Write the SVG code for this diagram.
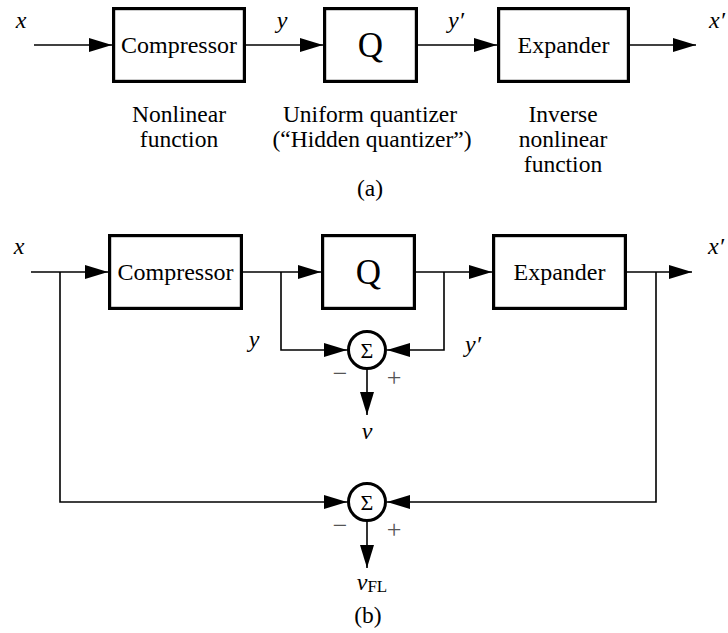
<svg xmlns="http://www.w3.org/2000/svg" width="728" height="633" viewBox="0 0 728 633">
<style>
.box{fill:#fff;stroke:#000;stroke-width:3.2}
.ln{fill:none;stroke:#000;stroke-width:1.6}
.arr{marker-end:url(#ah)}
text{font-family:'Liberation Serif','DejaVu Serif',serif;font-size:24px;fill:#000;text-anchor:middle}
.i{font-style:italic}
.c{font-size:23.5px}
.q{font-size:35px}
.sum{fill:#fff;stroke:#000;stroke-width:3}
.sg{font-size:22px}
.pm{fill:#555;font-size:26px}
</style>
<defs>
<marker id="ah" markerUnits="userSpaceOnUse" markerWidth="24" markerHeight="14" refX="23" refY="7" orient="auto"><path d="M0,0 L23,7 L0,14 z" fill="#000"/></marker>
</defs>
<g id="connectors">
<path class="ln arr" d="M34,45 H112"/>
<path class="ln arr" d="M246,45 H323"/>
<path class="ln arr" d="M418,45 H497"/>
<path class="ln arr" d="M630,45 H696"/>
<path class="ln arr" d="M31,272 H108"/>
<path class="ln arr" d="M243,272 H321"/>
<path class="ln arr" d="M416,272 H492"/>
<path class="ln arr" d="M627,272 H692"/>
<path class="ln arr" d="M281,272 V350 H347"/>
<path class="ln arr" d="M444,272 V350 H387"/>
<path class="ln arr" d="M367,369 V415"/>
<path class="ln arr" d="M60,272 V502 H347"/>
<path class="ln arr" d="M656,272 V502 H387"/>
<path class="ln arr" d="M367,521 V568"/>
</g>
<g id="a-compressor"><rect class="box" x="113.6" y="8.6" width="130.8" height="72.8"/><text x="179" y="53">Compressor</text></g>
<g id="a-q"><rect class="box" x="324.6" y="8.6" width="91.8" height="72.8"/><text class="q" x="370.5" y="57">Q</text></g>
<g id="a-expander"><rect class="box" x="498.6" y="8.6" width="129.8" height="72.8"/><text x="563.5" y="53">Expander</text></g>
<g id="a-labels">
<text class="i" x="21" y="28">x</text>
<text class="i" x="282" y="28">y</text>
<text class="i" x="456" y="28">y′</text>
<text class="i" x="717" y="28">x′</text>
<text class="c" x="179" y="122">Nonlinear</text>
<text class="c" x="179" y="147">function</text>
<text class="c" x="370" y="122">Uniform quantizer</text>
<text class="c" x="372" y="147">(“Hidden quantizer”)</text>
<text class="c" x="563" y="122">Inverse</text>
<text class="c" x="563" y="147">nonlinear</text>
<text class="c" x="563" y="172">function</text>
<text class="c" x="370" y="196">(a)</text>
</g>
<g id="b-compressor"><rect class="box" x="109.6" y="235.6" width="131.8" height="72.8"/><text x="175.5" y="280">Compressor</text></g>
<g id="b-q"><rect class="box" x="322.6" y="235.6" width="91.8" height="72.8"/><text class="q" x="368.5" y="284">Q</text></g>
<g id="b-expander"><rect class="box" x="493.6" y="235.6" width="131.8" height="72.8"/><text x="559.5" y="280">Expander</text></g>
<g id="sum1"><circle class="sum" cx="367" cy="350" r="18.5"/><text class="sg" x="367" y="358">Σ</text><text class="pm" x="340" y="382">−</text><text class="pm" x="394" y="386">+</text></g>
<g id="sum2"><circle class="sum" cx="367" cy="502" r="18.5"/><text class="sg" x="367" y="510">Σ</text><text class="pm" x="340" y="534">−</text><text class="pm" x="394" y="538">+</text></g>
<g id="b-labels">
<text class="i" x="19" y="254">x</text>
<text class="i" x="716" y="254">x′</text>
<text class="i" x="254" y="347">y</text>
<text class="i" x="473" y="352">y′</text>
<text class="i" x="367" y="439">ν</text>
<text x="372" y="590"><tspan class="i">ν</tspan><tspan font-size="17px" dy="2">FL</tspan></text>
<text class="c" x="368" y="623">(b)</text>
</g>
</svg>
